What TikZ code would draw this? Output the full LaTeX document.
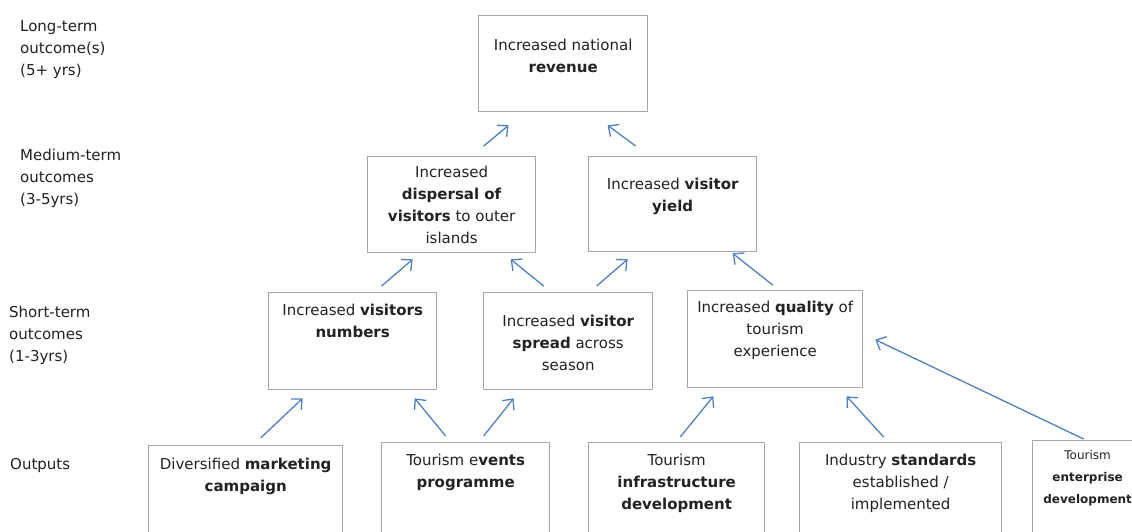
\documentclass[tikz,border=0pt]{standalone}
\usepackage{fontspec}
\setmainfont{DejaVu Sans}
\usepackage{xcolor}
\definecolor{boxline}{HTML}{A6A6A6}
\definecolor{textmain}{HTML}{222222}
\definecolor{linkblue}{HTML}{4F81BD}
\usetikzlibrary{arrows.meta, positioning, calc}

\begin{document}
\begin{tikzpicture}[
        x=1pt, y=-1pt,
        font=\fontsize{15}{22}\selectfont,
        text=textmain,
        outbox/.style={
            rectangle,
            draw=boxline,
            line width=1.3pt,
            anchor=north west,
            inner sep=0pt
        },
        boxtext/.style={
            anchor=north,
            align=center,
            inner sep=0pt,
            text=textmain
        },
        stage/.style={
            anchor=north west,
            align=left,
            inner sep=0pt
        },
        link/.style={
            -{Straight Barb[length=8pt, width=15pt, line width=1.3pt]},
            draw=linkblue,
            line width=1.3pt
        }
    ]

    % Canvas
    \fill[white] (0,0) rectangle (1132,532);
    \path[use as bounding box, clip] (0,0) rectangle (1132,532);

    % Stage labels (Left)
    \node[stage] (st_long) at (20,20) {Long-term\\outcome(s)\\(5+ yrs)};
    \node[stage] (st_medium) at (20,149) {Medium-term\\outcomes\\(3-5yrs)};
    \node[stage] (st_short) at (9,306) {Short-term\\outcomes\\(1-3yrs)};
    \node[stage] (st_outputs) at (10,458) {Outputs};

    % Long-term outcome
    \node[outbox, minimum width=169pt, minimum height=96pt,
        label={[boxtext, yshift=-24pt]north:{Increased national\\\textbf{revenue}}}] (revenue) at (478,15) {};

    % Medium-term outcomes
    \node[outbox, minimum width=168pt, minimum height=96pt,
        label={[boxtext, yshift=-10pt]north:{Increased\\\textbf{dispersal of}\\\textbf{visitors} to outer\\islands}}] (dispersal) at (367,156) {};
    \node[outbox, minimum width=168pt, minimum height=95pt,
        label={[boxtext, yshift=-22pt]north:{Increased \textbf{visitor}\\\textbf{yield}}}] (yield) at (588,156) {};

    % Short-term outcomes
    \node[outbox, minimum width=168pt, minimum height=97pt,
        label={[boxtext, yshift=-12pt]north:{Increased \textbf{visitors}\\\textbf{numbers}}}] (numbers) at (268,292) {};
    \node[outbox, minimum width=169pt, minimum height=97pt,
        label={[boxtext, yshift=-23pt]north:{Increased \textbf{visitor}\\\textbf{spread} across\\season}}] (spread) at (483,292) {};
    \node[outbox, minimum width=175pt, minimum height=97pt,
        label={[boxtext, yshift=-11pt]north:{Increased \textbf{quality} of\\tourism\\experience}}] (quality) at (687,290) {};

    % Outputs (cut off at the bottom)
    \node[outbox, minimum width=194pt, minimum height=120pt,
        label={[boxtext, yshift=-13pt]north:{Diversified \textbf{marketing}\\\textbf{campaign}}}] (marketing) at (148,445) {};
    \node[outbox, minimum width=168pt, minimum height=120pt,
        label={[boxtext, yshift=-12pt]north:{Tourism e\textbf{vents}\\\textbf{programme}}}] (events) at (381,442) {};
    \node[outbox, minimum width=176pt, minimum height=120pt,
        label={[boxtext, yshift=-12pt]north:{Tourism\\\textbf{infrastructure}\\\textbf{development}}}] (infra) at (588,442) {};
    \node[outbox, minimum width=202pt, minimum height=120pt,
        label={[boxtext, yshift=-12pt]north:{Industry \textbf{standards}\\established /\\implemented}}] (standards) at (799,442) {};
    \node[outbox, minimum width=110pt, minimum height=120pt,
        label={[boxtext, yshift=-10pt, font=\fontsize{12}{22}\selectfont]north:{Tourism\\\textbf{enterprise}\\\textbf{development}}}] (enterprise) at (1032,440) {};

    % Medium -> Long
    \draw[link] ($(dispersal.north)+(32,-10)$) -- ($(revenue.south)+(-54.5,13)$);
    \draw[link] ($(yield.north)+(-37,-10)$) -- ($(revenue.south)+(44.5,13)$);

    % Short -> Medium
    \draw[link] ($(numbers.north)+(29,-6)$) -- ($(dispersal.south)+(-39,6)$);
    \draw[link] ($(spread.north)+(-24.5,-6)$) -- ($(dispersal.south)+(59,6)$);
    \draw[link] ($(spread.north)+(28.5,-6)$) -- ($(yield.south)+(-45,7)$);
    \draw[link] ($(quality.north)+(-2.5,-5)$) -- ($(yield.south)+(60,1)$);

    % Outputs -> Short
    \draw[link] ($(marketing.north)+(15,-7)$) -- ($(numbers.south)+(-50,8)$);
    \draw[link] ($(events.north)+(-20,-6)$) -- ($(numbers.south)+(62,8)$);
    \draw[link] ($(events.north)+(18,-6)$) -- ($(spread.south)+(-54.5,8)$);
    \draw[link] ($(infra.north)+(3.6,-5)$) -- ($(quality.south)+(-61.8,8)$);
    \draw[link] ($(standards.north)+(-17,-5)$) -- ($(quality.south)+(71.5,8)$);
    \draw[link] ($(enterprise.north)+(-4,-1)$) -- ($(quality.east)+(12,0.5)$);

\end{tikzpicture}
\end{document}
